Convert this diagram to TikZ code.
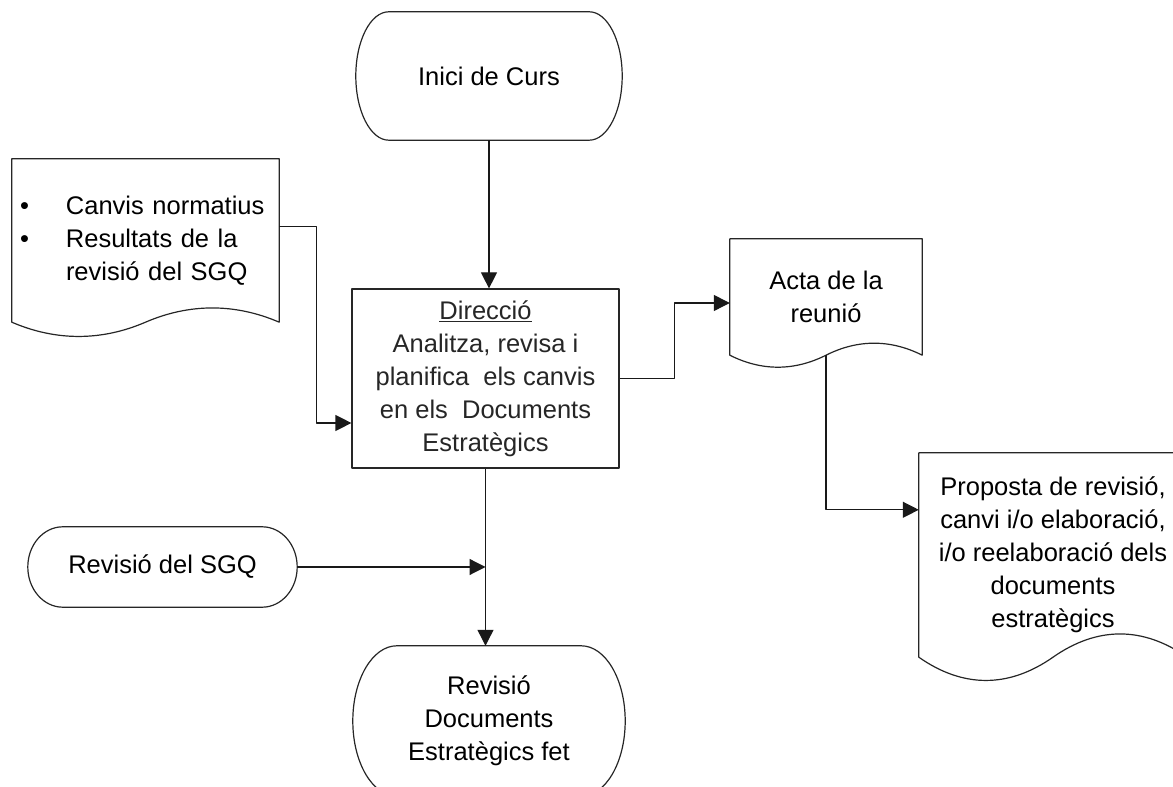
\documentclass[tikz,border=0pt]{standalone}
\usepackage{fontspec}
\setmainfont{Liberation Sans}
\usetikzlibrary{arrows.meta}
\usetikzlibrary{calc}

\newcommand\termframe[2]{%
  \draw[frame] let \p1=($(#1.north)-(#1.south)$) in
    ($(#1.north west)+(#2,0)$) -- ($(#1.north east)+(-#2,0)$)
    arc[start angle=90,end angle=-90,x radius=#2pt,y radius=0.5*\y1]
    -- ($(#1.south west)+(#2,0)$)
    arc[start angle=270,end angle=90,x radius=#2pt,y radius=0.5*\y1] -- cycle;}

\newcommand\docframe[2]{%
  \draw[frame] (#1.south west) -- (#1.north west) -- (#1.north east) -- (#1.south east)
    .. controls ($(#1.south east)!.33!(#1.south)+(0,#2)$) and ($(#1.south east)!.67!(#1.south)+(0,#2)$) .. (#1.south)
    .. controls ($(#1.south)!.33!(#1.south west)-(0,#2)$) and ($(#1.south)!.67!(#1.south west)-(0,#2)$) .. (#1.south west) -- cycle;}

\begin{document}
\begin{tikzpicture}[x=1pt, y=1pt, line join=round,
  frame/.style={line width=1.2pt, black!85},
  arr/.style={line width=1.2pt, black!90, -{Triangle[length=16pt,width=16pt]}},
  every node/.style={font=\fontsize{25.5}{33}\selectfont, inner sep=0pt, align=center},
  box/.style={frame, draw, minimum width=267, minimum height=179},
  terminal/.style={minimum width=#1},
  doc/.style={minimum width=#1}]

  \useasboundingbox (0,0) rectangle (1173,787);
  \clip (0,0) rectangle (1173,787);

  \node[terminal=266, minimum height=128] (inici) at (489,711) {Inici de Curs};
  \node[box] (direccio) at (485.5,408.5)
    {\underline{Direcció}\\Analitza, revisa i\\planifica~ els canvis\\en els~ Documents\\Estratègics};
  \node[doc=267, minimum height=163, text width=251, inner xsep=8, align=left] (canvis) at (145.5,546.5)
    {\makebox[46pt][l]{\textbullet}Canvis normatius\\\makebox[46pt][l]{\textbullet}Resultats de la\\\hspace*{46pt}revisió del SGQ};
  \node[doc=192, minimum height=116] (acta) at (826,490) {Acta de la\\reunió};
  \node[doc=268, minimum height=204] (proposta) at (1053,232)
    {Proposta de revisió,\\canvi i/o elaboració,\\i/o reelaboració dels\\documents\\estratègics};
  \node[terminal=269, minimum height=80] (sgq) at (162.5,220) {Revisió del SGQ};
  \node[terminal=272, minimum height=150] (fet) at (489,66) {Revisió\\Documents\\Estratègics fet};

  \termframe{inici}{33}
  \termframe{sgq}{35}
  \termframe{fet}{44}
  \docframe{canvis}{19}
  \docframe{acta}{16}
  \docframe{proposta}{31}

  \draw[arr] (inici.south) -- (inici.south |- direccio.north);
  \draw[arr] ($(canvis.north east)+(0,-68)$) -- ++(37,0) |- ($(direccio.west)+(0,-44.5)$);
  \draw[arr] (direccio.east) -- ++(55,0) |- ($(acta.west)+(0,-6)$);
  \draw[arr] (acta.south) |- ($(proposta.north west)+(0,-57)$);
  \draw[arr] (direccio.south) -- (direccio.south |- fet.north);
  \draw[arr] (sgq.east) -- (sgq.east -| direccio.south);
\end{tikzpicture}
\end{document}
